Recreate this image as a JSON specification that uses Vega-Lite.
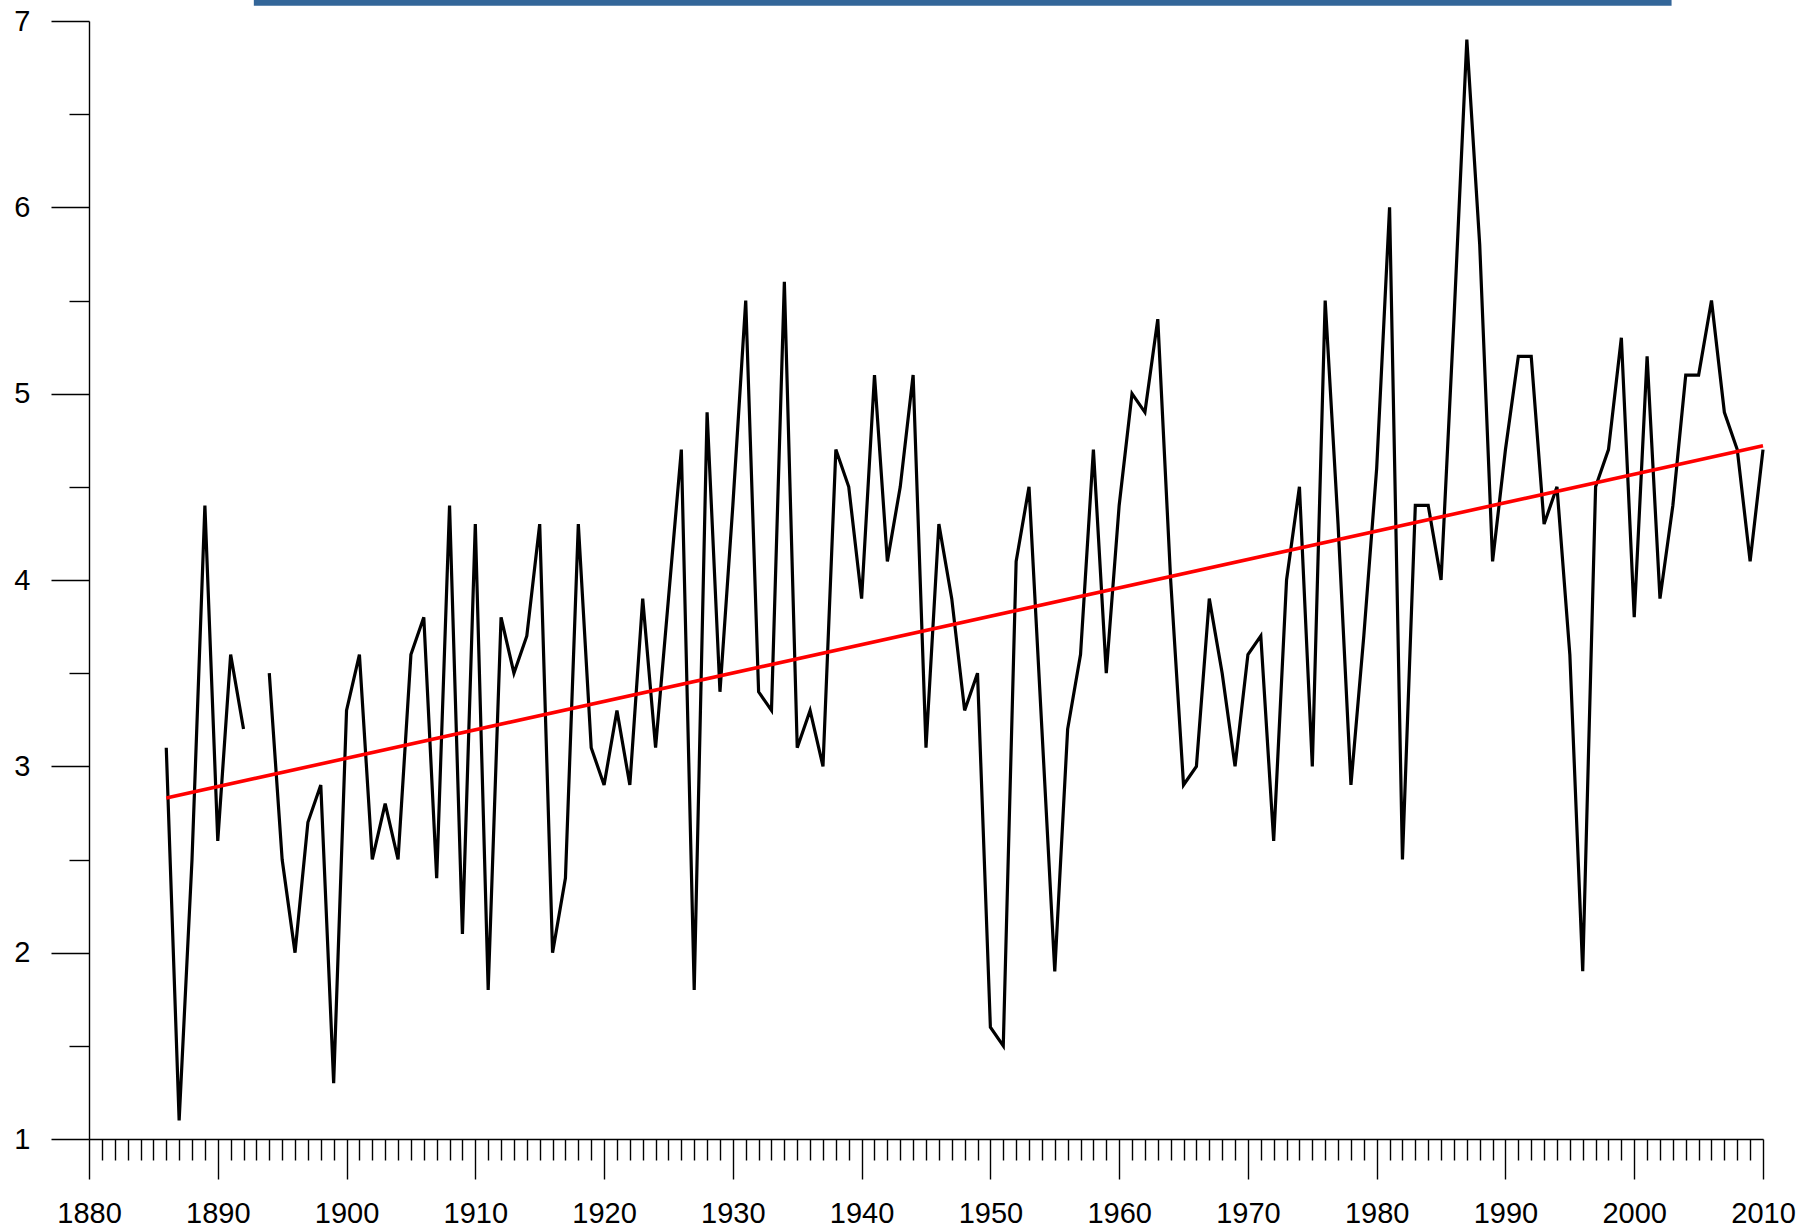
{
  "$schema": "https://vega.github.io/schema/vega-lite/v6.json",
  "width": 1674,
  "height": 1118,
  "autosize": "none",
  "padding": {"left": 89, "top": 21, "right": 49, "bottom": 92},
  "background": "white",
  "config": {"view": {"stroke": null}, "font": "Liberation Sans"},
  "datasets": {
    "series": [
      {"year": 1886, "value": 3.1}, {"year": 1887, "value": 1.1}, {"year": 1888, "value": 2.5}, {"year": 1889, "value": 4.4},
      {"year": 1890, "value": 2.6}, {"year": 1891, "value": 3.6}, {"year": 1892, "value": 3.2}, {"year": 1893, "value": null},
      {"year": 1894, "value": 3.5}, {"year": 1895, "value": 2.5}, {"year": 1896, "value": 2.0}, {"year": 1897, "value": 2.7},
      {"year": 1898, "value": 2.9}, {"year": 1899, "value": 1.3}, {"year": 1900, "value": 3.3}, {"year": 1901, "value": 3.6},
      {"year": 1902, "value": 2.5}, {"year": 1903, "value": 2.8}, {"year": 1904, "value": 2.5}, {"year": 1905, "value": 3.6},
      {"year": 1906, "value": 3.8}, {"year": 1907, "value": 2.4}, {"year": 1908, "value": 4.4}, {"year": 1909, "value": 2.1},
      {"year": 1910, "value": 4.3}, {"year": 1911, "value": 1.8}, {"year": 1912, "value": 3.8}, {"year": 1913, "value": 3.5},
      {"year": 1914, "value": 3.7}, {"year": 1915, "value": 4.3}, {"year": 1916, "value": 2.0}, {"year": 1917, "value": 2.4},
      {"year": 1918, "value": 4.3}, {"year": 1919, "value": 3.1}, {"year": 1920, "value": 2.9}, {"year": 1921, "value": 3.3},
      {"year": 1922, "value": 2.9}, {"year": 1923, "value": 3.9}, {"year": 1924, "value": 3.1}, {"year": 1925, "value": 3.9},
      {"year": 1926, "value": 4.7}, {"year": 1927, "value": 1.8}, {"year": 1928, "value": 4.9}, {"year": 1929, "value": 3.4},
      {"year": 1930, "value": 4.4}, {"year": 1931, "value": 5.5}, {"year": 1932, "value": 3.4}, {"year": 1933, "value": 3.3},
      {"year": 1934, "value": 5.6}, {"year": 1935, "value": 3.1}, {"year": 1936, "value": 3.3}, {"year": 1937, "value": 3.0},
      {"year": 1938, "value": 4.7}, {"year": 1939, "value": 4.5}, {"year": 1940, "value": 3.9}, {"year": 1941, "value": 5.1},
      {"year": 1942, "value": 4.1}, {"year": 1943, "value": 4.5}, {"year": 1944, "value": 5.1}, {"year": 1945, "value": 3.1},
      {"year": 1946, "value": 4.3}, {"year": 1947, "value": 3.9}, {"year": 1948, "value": 3.3}, {"year": 1949, "value": 3.5},
      {"year": 1950, "value": 1.6}, {"year": 1951, "value": 1.5}, {"year": 1952, "value": 4.1}, {"year": 1953, "value": 4.5},
      {"year": 1954, "value": 3.2}, {"year": 1955, "value": 1.9}, {"year": 1956, "value": 3.2}, {"year": 1957, "value": 3.6},
      {"year": 1958, "value": 4.7}, {"year": 1959, "value": 3.5}, {"year": 1960, "value": 4.4}, {"year": 1961, "value": 5.0},
      {"year": 1962, "value": 4.9}, {"year": 1963, "value": 5.4}, {"year": 1964, "value": 4.0}, {"year": 1965, "value": 2.9},
      {"year": 1966, "value": 3.0}, {"year": 1967, "value": 3.9}, {"year": 1968, "value": 3.5}, {"year": 1969, "value": 3.0},
      {"year": 1970, "value": 3.6}, {"year": 1971, "value": 3.7}, {"year": 1972, "value": 2.6}, {"year": 1973, "value": 4.0},
      {"year": 1974, "value": 4.5}, {"year": 1975, "value": 3.0}, {"year": 1976, "value": 5.5}, {"year": 1977, "value": 4.3},
      {"year": 1978, "value": 2.9}, {"year": 1979, "value": 3.7}, {"year": 1980, "value": 4.6}, {"year": 1981, "value": 6.0},
      {"year": 1982, "value": 2.5}, {"year": 1983, "value": 4.4}, {"year": 1984, "value": 4.4}, {"year": 1985, "value": 4.0},
      {"year": 1986, "value": 5.4}, {"year": 1987, "value": 6.9}, {"year": 1988, "value": 5.8}, {"year": 1989, "value": 4.1},
      {"year": 1990, "value": 4.7}, {"year": 1991, "value": 5.2}, {"year": 1992, "value": 5.2}, {"year": 1993, "value": 4.3},
      {"year": 1994, "value": 4.5}, {"year": 1995, "value": 3.6}, {"year": 1996, "value": 1.9}, {"year": 1997, "value": 4.5},
      {"year": 1998, "value": 4.7}, {"year": 1999, "value": 5.3}, {"year": 2000, "value": 3.8}, {"year": 2001, "value": 5.2},
      {"year": 2002, "value": 3.9}, {"year": 2003, "value": 4.4}, {"year": 2004, "value": 5.1}, {"year": 2005, "value": 5.1},
      {"year": 2006, "value": 5.5}, {"year": 2007, "value": 4.9}, {"year": 2008, "value": 4.7}, {"year": 2009, "value": 4.1},
      {"year": 2010, "value": 4.7}
    ],
    "trend": [
      {"year": 1886, "value": 2.83},
      {"year": 2010, "value": 4.72}
    ],
    "banner": [
      {"start": 1892.8, "end": 2002.9, "low": 7.082, "high": 7.115}
    ]
  },
  "layer": [
    {
      "data": {"name": "banner"},
      "mark": {"type": "rect", "color": "#336699", "clip": false},
      "encoding": {
        "x": {"field": "start", "type": "quantitative"},
        "x2": {"field": "end"},
        "y": {"field": "low", "type": "quantitative"},
        "y2": {"field": "high"}
      }
    },
    {
      "data": {"name": "series"},
      "mark": {"type": "line", "color": "#000000", "strokeWidth": 3.2, "strokeJoin": "miter", "strokeMiterLimit": 4},
      "encoding": {
        "x": {
          "field": "year",
          "type": "quantitative",
          "scale": {"domain": [1880, 2010], "nice": false, "zero": false},
          "axis": {
            "title": null,
            "grid": false,
            "tickCount": 400,
            "values": [1880,1881,1882,1883,1884,1885,1886,1887,1888,1889,1890,1891,1892,1893,1894,1895,1896,1897,1898,1899,1900,1901,1902,1903,1904,1905,1906,1907,1908,1909,1910,1911,1912,1913,1914,1915,1916,1917,1918,1919,1920,1921,1922,1923,1924,1925,1926,1927,1928,1929,1930,1931,1932,1933,1934,1935,1936,1937,1938,1939,1940,1941,1942,1943,1944,1945,1946,1947,1948,1949,1950,1951,1952,1953,1954,1955,1956,1957,1958,1959,1960,1961,1962,1963,1964,1965,1966,1967,1968,1969,1970,1971,1972,1973,1974,1975,1976,1977,1978,1979,1980,1981,1982,1983,1984,1985,1986,1987,1988,1989,1990,1991,1992,1993,1994,1995,1996,1997,1998,1999,2000,2001,2002,2003,2004,2005,2006,2007,2008,2009,2010],
            "format": "d",
            "labelExpr": "datum.value % 10 === 0 ? datum.label : ''",
            "tickSize": {"condition": {"test": "datum.value % 10 === 0", "value": 40}, "value": 21},
            "labelOverlap": false,
            "labelFlush": false,
            "labelPadding": 20,
            "labelFontSize": 29,
            "labelFont": "Liberation Sans",
            "labelColor": "#000000",
            "domainColor": "#000000",
            "tickColor": "#000000",
            "domainWidth": 1.4,
            "tickWidth": 1.4
          }
        },
        "y": {
          "field": "value",
          "type": "quantitative",
          "scale": {"domain": [1, 7], "nice": false, "zero": false},
          "axis": {
            "title": null,
            "grid": false,
            "tickCount": 100,
            "values": [1, 1.5, 2, 2.5, 3, 3.5, 4, 4.5, 5, 5.5, 6, 6.5, 7],
            "labelExpr": "datum.value % 1 === 0 ? format(datum.value, 'd') : ''",
            "tickSize": {"condition": {"test": "datum.value % 1 === 0", "value": 38}, "value": 20},
            "labelOverlap": false,
            "labelFlush": false,
            "labelPadding": 21,
            "labelFontSize": 29,
            "labelFont": "Liberation Sans",
            "labelColor": "#000000",
            "domainColor": "#000000",
            "tickColor": "#000000",
            "domainWidth": 1.4,
            "tickWidth": 1.4
          }
        }
      }
    },
    {
      "data": {"name": "trend"},
      "mark": {"type": "line", "color": "#ff0000", "strokeWidth": 3.6},
      "encoding": {
        "x": {"field": "year", "type": "quantitative"},
        "y": {"field": "value", "type": "quantitative"}
      }
    }
  ]
}
